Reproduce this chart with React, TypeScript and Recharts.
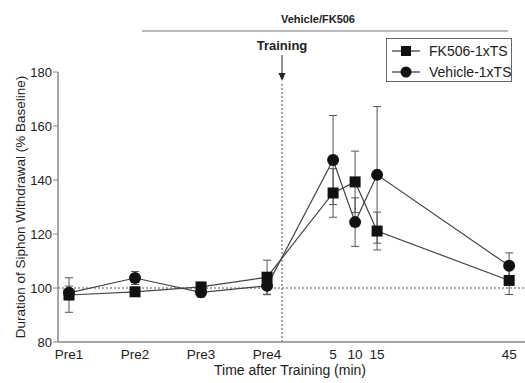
import React from 'react';
import { ComposedChart, Line, XAxis, YAxis, ErrorBar, ReferenceLine } from 'recharts';

// time points (min relative to training; pre sessions spaced 15 min apart)
const timePoints = [-55, -40, -25, -10, 5, 10, 15, 45];
const tickLabels = ['Pre1', 'Pre2', 'Pre3', 'Pre4', '5', '10', '15', '45'];

const fk506 = [97.4, 98.6, 100.4, 104, 135.2, 139.3, 121.1, 102.8];
const fk506Err = [6.4, 1.2, 1.5, 6.3, 9, 11.4, 7, 5.2];
const vehicle = [98.2, 103.7, 98.4, 100.8, 147.4, 124.4, 141.9, 108.2];
const vehicleErr = [2.5, 2.4, 1.8, 3.3, 16.5, 9, 25.3, 4.8];

const yTicks = [80, 100, 120, 140, 160, 180];
const trainingAt = -6.6;

const data = timePoints.map((x, i) => ({
  x,
  fk: fk506[i],
  fkErr: fk506Err[i],
  veh: vehicle[i],
  vehErr: vehicleErr[i],
}));

const labelFor = (v: number) => tickLabels[timePoints.indexOf(v)] ?? '';

const font = '"Liberation Sans", Arial, sans-serif';

const SquareDot = (props: any) => {
  const { cx, cy, index } = props;
  if (cx == null || cy == null) return null;
  return <rect key={`s-${index}`} x={cx - 5.5} y={cy - 5.5} width={11} height={11} fill="#111" />;
};

const CircleDot = (props: any) => {
  const { cx, cy, index } = props;
  if (cx == null || cy == null) return null;
  return <circle key={`c-${index}`} cx={cx} cy={cy} r={6} fill="#111" />;
};

const App: React.FC = () => {
  return (
    <div style={{ position: 'absolute', left: 0, top: 0, width: 525, height: 383, background: '#fff', fontFamily: font }}>
      <ComposedChart width={525} height={383} data={data} margin={{ top: 72, right: 0, bottom: 0, left: 0 }}>
        <XAxis
          dataKey="x"
          type="number"
          domain={[-57.5, 48.6]}
          ticks={timePoints}
          tickFormatter={labelFor}
          tickLine={false}
          axisLine={{ stroke: '#888', strokeWidth: 1.5 }}
          height={41}
          tick={{ fontSize: 13.5, fill: '#222', fontFamily: font }}
          tickMargin={1}
          interval={0}
          allowDataOverflow
        />
        <YAxis
          type="number"
          domain={[80, 180]}
          ticks={yTicks}
          width={58}
          tickSize={5}
          tickLine={{ stroke: '#888' }}
          axisLine={{ stroke: '#888', strokeWidth: 1.5 }}
          tick={{ fontSize: 13, fill: '#222', fontFamily: font }}
          tickMargin={1}
          interval={0}
          allowDataOverflow
        />
        <ReferenceLine y={100} stroke="#555" strokeDasharray="2 2" />
        <ReferenceLine
          segment={[{ x: trainingAt, y: 80 }, { x: trainingAt, y: 176.3 }]}
          stroke="#555"
          strokeDasharray="2 2"
        />
        <Line
          dataKey="fk"
          stroke="#444"
          strokeWidth={1.2}
          dot={SquareDot}
          activeDot={false}
          isAnimationActive={false}
        >
          <ErrorBar dataKey="fkErr" width={4} stroke="#555" strokeWidth={1} direction="y" isAnimationActive={false} />
        </Line>
        <Line
          dataKey="veh"
          stroke="#444"
          strokeWidth={1.2}
          dot={CircleDot}
          activeDot={false}
          isAnimationActive={false}
        >
          <ErrorBar dataKey="vehErr" width={4} stroke="#555" strokeWidth={1} direction="y" isAnimationActive={false} />
        </Line>
      </ComposedChart>

      <svg width={525} height={383} style={{ position: 'absolute', left: 0, top: 0, pointerEvents: 'none' }}>
        <text x={318} y={23} textAnchor="middle" fontSize={11} fontWeight="bold" fill="#222" fontFamily={font}>
          Vehicle/FK506
        </text>
        <line x1={142} y1={31} x2={508} y2={31} stroke="#777" strokeWidth={1} />
        <text x={282} y={50} textAnchor="middle" fontSize={13} fontWeight="bold" fill="#222" fontFamily={font}>
          Training
        </text>
        <line x1={282} y1={55} x2={282} y2={74} stroke="#222" strokeWidth={1} />
        <polygon points="278.5,73 285.5,73 282,81" fill="#222" />
        <text
          x={20}
          y={207}
          transform="rotate(-90 20 207)"
          textAnchor="middle"
          dominantBaseline="central"
          fontSize={13.5}
          fill="#222"
          fontFamily={font}
        >
          Duration of Siphon Withdrawal (% Baseline)
        </text>
        <text x={290} y={375} textAnchor="middle" fontSize={14} fill="#222" fontFamily={font}>
          Time after Training (min)
        </text>
      </svg>

      <div
        style={{
          position: 'absolute',
          left: 386,
          top: 38,
          width: 126,
          height: 44,
          border: '1px solid #666',
          boxSizing: 'border-box',
          background: '#fff',
          fontSize: 14,
          color: '#222',
        }}
      >
        {[
          { name: 'FK506-1xTS', shape: 'square' },
          { name: 'Vehicle-1xTS', shape: 'circle' },
        ].map((item, i) => (
          <div key={item.name} style={{ position: 'absolute', left: 5, top: 3 + i * 21, height: 18, display: 'flex', alignItems: 'center' }}>
            <svg width={30} height={18}>
              <line x1={0} y1={9} x2={28} y2={9} stroke="#333" strokeWidth={1.2} />
              {item.shape === 'square' ? (
                <rect x={9} y={4} width={10} height={10} fill="#111" />
              ) : (
                <circle cx={14} cy={9} r={5.5} fill="#111" />
              )}
            </svg>
            <span style={{ marginLeft: 7, whiteSpace: 'nowrap' }}>{item.name}</span>
          </div>
        ))}
      </div>
    </div>
  );
};

export default App;
